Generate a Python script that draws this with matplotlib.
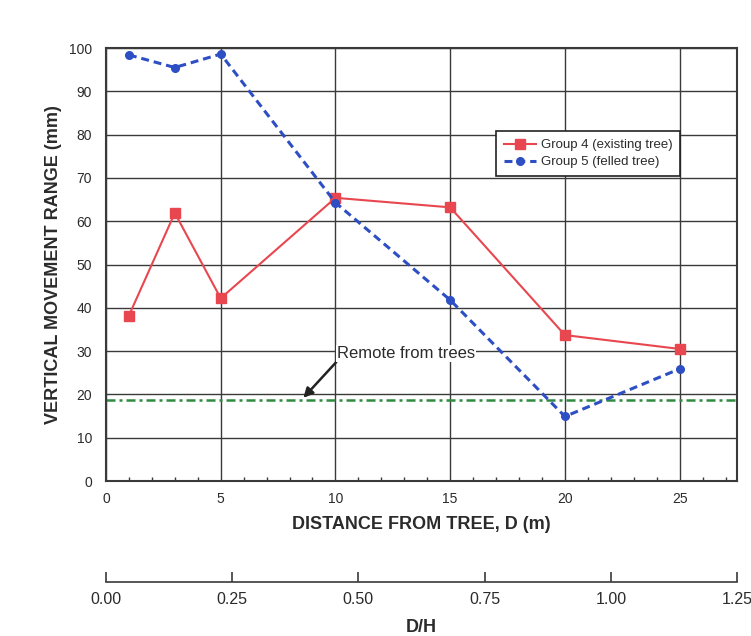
import numpy as np
import matplotlib
matplotlib.use("Agg")
import matplotlib.pyplot as plt
from matplotlib.ticker import MultipleLocator

plt.rcParams['font.family'] = ['Liberation Sans', 'DejaVu Sans']

# data
distance = [1, 3, 5, 10, 15, 20, 25]
group4_existing = [38.2, 61.9, 42.2, 65.4, 63.2, 33.7, 30.5]
group5_felled = [98.4, 95.5, 98.6, 64.3, 41.8, 14.9, 25.9]
remote_level = 18.6
dh_ticks = [0.00, 0.25, 0.50, 0.75, 1.00, 1.25]

text_col = '#2b2b2b'
grid_col = '#3a3a3a'

fig = plt.figure(figsize=(7.51, 6.36), dpi=100)
ax = fig.add_axes([0.1411, 0.2437, 0.8403, 0.6808])

ax.set_xlim(0, 27.5)
ax.set_ylim(0, 100)
ax.xaxis.set_major_locator(MultipleLocator(5))
ax.xaxis.set_minor_locator(MultipleLocator(1))
ax.yaxis.set_major_locator(MultipleLocator(10))
ax.grid(True, which='major', color=grid_col, lw=1.0)
ax.set_axisbelow(True)
ax.tick_params(axis='both', which='major', length=0, labelsize=10,
               labelcolor=text_col)
ax.tick_params(axis='x', which='major', pad=8)
ax.tick_params(axis='y', which='major', pad=10)
ax.tick_params(axis='x', which='minor', direction='in', length=3,
               width=1, color=grid_col, top=False)
for sp in ax.spines.values():
    sp.set_color(grid_col)
    sp.set_linewidth(1.5)

# remote-from-trees reference line
ax.axhline(remote_level, color='#2e8b40', lw=1.8,
           linestyle=(0, (3.6, 1.6, 1.2, 1.6)), zorder=2)

ax.plot(distance, group4_existing, color='#e8474f', lw=1.5, marker='s',
        markersize=6.5, label='Group 4 (existing tree)', zorder=4)
ax.plot(distance, group5_felled, color='#2e4fc4', lw=2.2,
        linestyle=(0, (2.6, 1.6)), marker='o', markersize=5.5,
        label='Group 5 (felled tree)', zorder=4)

ax.annotate('Remote from trees', xy=(8.6, 19.2), xytext=(10.07, 29.4),
            ha='left', va='center', fontsize=12, color=text_col,
            bbox=dict(boxstyle='square,pad=0.05', fc='white', ec='none'),
            arrowprops=dict(arrowstyle='-|>', color='#222222', lw=1.8,
                            relpos=(0, 0), shrinkA=0, shrinkB=0,
                            mutation_scale=14),
            zorder=5)

leg = ax.legend(loc='upper left', bbox_to_anchor=(0.618, 0.808),
                borderaxespad=0, fontsize=9.5, fancybox=False,
                framealpha=1, edgecolor='#222222', handlelength=2.4,
                labelspacing=0.35, borderpad=0.6, handletextpad=0.4)
leg.get_frame().set_linewidth(1.2)
for t in leg.get_texts():
    t.set_color(text_col)

ax.set_xlabel('DISTANCE FROM TREE, D (m)', fontsize=13, fontweight='bold',
              color=text_col, labelpad=7)
ax.set_ylabel('VERTICAL MOVEMENT RANGE (mm)', fontsize=13,
              fontweight='bold', color=text_col, labelpad=5)

# secondary D/H scale below the chart
ax2 = fig.add_axes([0.1411, 0.0849, 0.8403, 0.0])
ax2.set_xlim(0, 1.25)
ax2.set_yticks([])
ax2.set_xticks(dh_ticks)
ax2.set_xticklabels([f'{v:.2f}' for v in dh_ticks])
for side in ['top', 'left', 'right']:
    ax2.spines[side].set_visible(False)
ax2.spines['bottom'].set_color(grid_col)
ax2.spines['bottom'].set_linewidth(1.2)
ax2.tick_params(axis='x', direction='in', length=7, width=1.2,
                color=grid_col, labelsize=11.5, labelcolor=text_col, pad=7)
ax2.set_xlabel('D/H', fontsize=13, fontweight='bold', color=text_col,
               labelpad=9)

fig.savefig('out.png', dpi=100)
